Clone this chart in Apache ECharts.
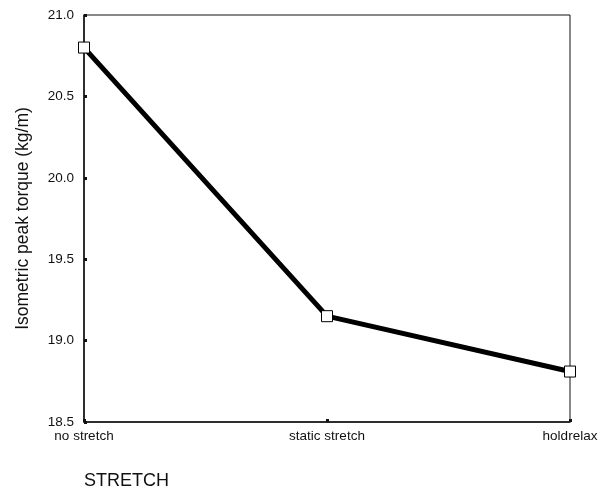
<!DOCTYPE html>
<html><head><meta charset="utf-8">
<script src="https://cdn.jsdelivr.net/npm/echarts@6/dist/echarts.min.js"></script>
<style>html,body{margin:0;padding:0;background:#fff}#c{width:607px;height:492px}</style>
</head><body><div id="c"></div>
<script>
const categories = ['no stretch', 'static stretch', 'holdrelax'];
const torque = [20.80, 19.15, 18.81];
const yTicks = [18.5, 19.0, 19.5, 20.0, 20.5, 21.0];

const chart = echarts.init(document.getElementById('c'));
const font = 'Liberation Sans, Arial, sans-serif';
chart.setOption({
  animation: false,
  backgroundColor: '#fff',
  grid: { left: 84, right: 37, top: 15, bottom: 70, show: true, borderColor: '#111', borderWidth: 1, backgroundColor: 'transparent' },
  xAxis: {
    type: 'category', data: categories, boundaryGap: false,
    axisLine: { lineStyle: { color: '#111', width: 1.5 } },
    axisTick: { show: true, length: 3, inside: true, lineStyle: { color: '#111', width: 3 } },
    axisLabel: { color: '#111', fontFamily: font, fontSize: 13.5, margin: 7 },
    splitLine: { show: false }
  },
  yAxis: {
    type: 'value', min: 18.5, max: 21.0, interval: 0.5,
    name: 'Isometric peak torque (kg/m)', nameLocation: 'middle', nameGap: 52,
    nameTextStyle: { color: '#111', fontFamily: font, fontSize: 17.5 },
    axisLine: { show: true, lineStyle: { color: '#111', width: 1.5 } },
    axisTick: { show: true, length: 3, inside: true, lineStyle: { color: '#111', width: 3 } },
    axisLabel: { color: '#111', fontFamily: font, fontSize: 13.5, margin: 10,
      formatter: v => yTicks.includes(+v.toFixed(1)) ? v.toFixed(1) : '' },
    splitLine: { show: false }
  },
  graphic: [{ type: 'text', left: 84, top: 472, style: { text: 'STRETCH', font: '18px ' + font, fill: '#111' } }],
  series: [{
    type: 'line', data: torque,
    lineStyle: { color: '#000', width: 5 },
    symbol: 'rect', symbolSize: 11,
    itemStyle: { color: '#fff', borderColor: '#000', borderWidth: 1 },
    z: 3
  }]
});
</script></body></html>
